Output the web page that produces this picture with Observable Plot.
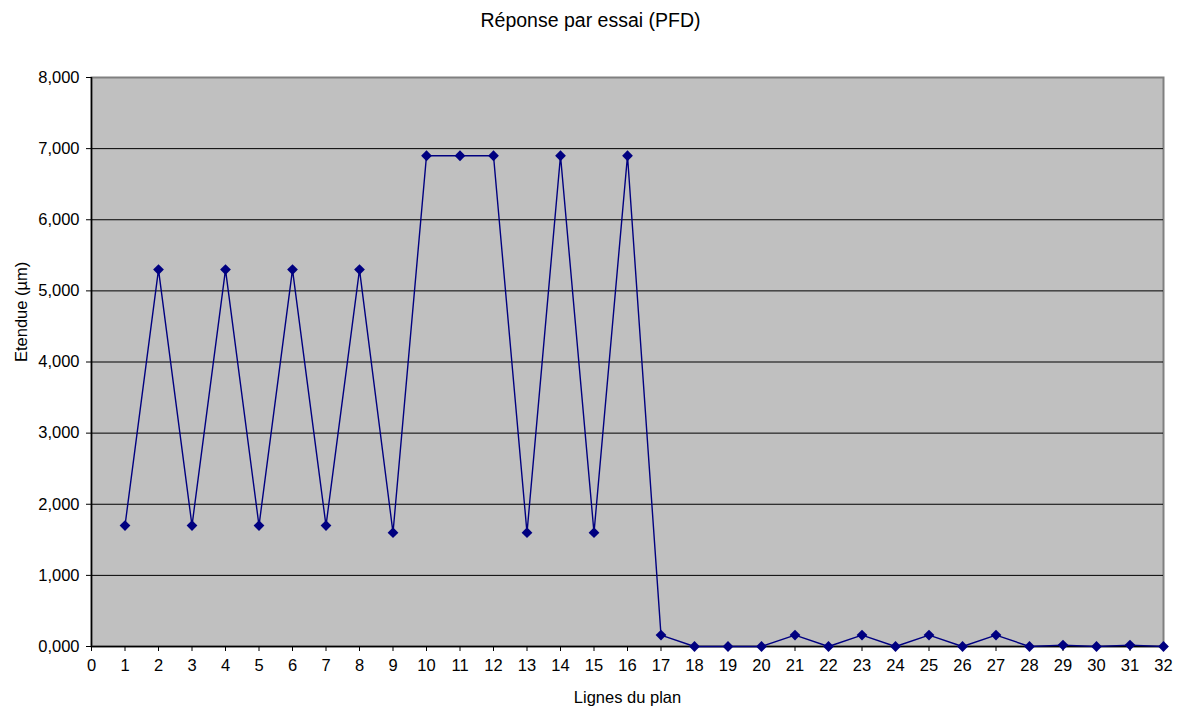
<!DOCTYPE html>
<html>
<head>
<meta charset="utf-8">
<script src="https://cdn.jsdelivr.net/npm/d3@7"></script>
<script src="https://cdn.jsdelivr.net/npm/@observablehq/plot@0.6"></script>
<style>
  body { margin: 0; background: #fff; font-family: "Liberation Sans", Arial, sans-serif; }
  #title { height: 40px; width: 1181px; display: flex; align-items: center; justify-content: center; font-size: 19.5px; color: #000; }
</style>
</head>
<body>
<div id="title">Réponse par essai (PFD)</div>
<div id="chart"></div>
<script>
const lignes = [1,2,3,4,5,6,7,8,9,10,11,12,13,14,15,16,17,18,19,20,21,22,23,24,25,26,27,28,29,30,31,32];
const etendue = [1.7,5.3,1.7,5.3,1.7,5.3,1.7,5.3,1.6,6.9,6.9,6.9,1.6,6.9,1.6,6.9,0.16,0,0,0,0.16,0,0.16,0,0.16,0,0.16,0,0.02,0,0.02,0];
const xTicks = d3.range(0, 33);
const yTicks = [0,1,2,3,4,5,6,7,8];

const data = lignes.map((x, i) => ({x, y: etendue[i]}));
const fmt = d => d.toFixed(3).replace(".", ",");

const chart = Plot.plot({
  width: 1181,
  height: 671,
  marginTop: 37,
  marginBottom: 65,
  marginLeft: 91,
  marginRight: 18,
  style: {fontFamily: "'Liberation Sans', Arial, sans-serif", fontSize: "16.5px", color: "#000", background: "#fff"},
  x: {domain: [0, 32], ticks: xTicks, tickFormat: d => String(d), label: null},
  y: {domain: [0, 8], ticks: yTicks, tickFormat: fmt, label: null},
  marks: [
    Plot.frame({fill: "#c0c0c0", stroke: "#808080", strokeWidth: 2}),
    Plot.ruleY(yTicks.filter(d => d > 0 && d < 8), {stroke: "#000", strokeWidth: 1}),
    Plot.ruleX([0], {stroke: "#000", strokeWidth: 1.5}),
    Plot.ruleY([0], {stroke: "#000", strokeWidth: 1.5}),
    Plot.axisX({ticks: xTicks, tickFormat: d => String(d), tickSize: 5, tickPadding: 8, fontSize: 16.5, label: null}),
    Plot.axisY({ticks: yTicks, tickFormat: fmt, tickSize: 5, tickPadding: 7, fontSize: 16.5, label: null}),
    Plot.line(data, {x: "x", y: "y", stroke: "#000080", strokeWidth: 1.4}),
    Plot.dot(data, {x: "x", y: "y", symbol: "square", rotate: 45, r: 4.3, fill: "#000080", stroke: "none"}),
    Plot.text(["Lignes du plan"], {frameAnchor: "bottom", lineAnchor: "middle", dy: 51, fontSize: 16.5, fill: "#000"}),
    Plot.text(["Etendue (µm)"], {frameAnchor: "left", dx: -70, rotate: -90, fontSize: 16.5, fill: "#000"})
  ]
});
document.getElementById("chart").appendChild(chart);
</script>
</body>
</html>
